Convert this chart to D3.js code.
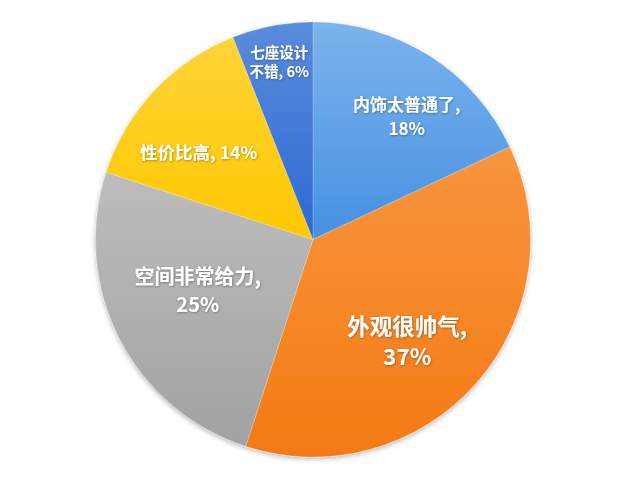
<!DOCTYPE html>
<html><head><meta charset="utf-8">
<script src="https://cdn.jsdelivr.net/npm/d3@7/dist/d3.min.js"></script>
<style>
html,body{margin:0;padding:0;background:#fff;}
svg{display:block;}
</style></head>
<body>
<svg id="chart" width="640" height="480"></svg>
<script>
const categories = ["内饰太普通了", "外观很帅气", "空间非常给力", "性价比高", "七座设计不错"];
const values = [18, 37, 25, 14, 6];
const labelLines = [["内饰太普通了,", "18%"], ["外观很帅气,", "37%"], ["空间非常给力,", "25%"], ["性价比高, 14%"], ["七座设计", "不错, 6%"]];

// styling (not data)
const gradTop = ["#7cb4ec", "#f8953e", "#bdbdbd", "#ffd438", "#5a8cdc"];
const gradBot = ["#4690e2", "#f47a14", "#a2a2a2", "#ffc800", "#2c69d4"];
const labelRadius = [0.71, 0.64, 0.58, 0.66, 0.83];
const labelAngleShift = [5, 6, 3, -6, 0];
const fontSizes = [17, 22.5, 20, 17.5, 14.5];
const lineGaps = [24.5, 30, 28.5, 0, 19.5];

const svg = d3.select("#chart");
const cx = 313, cy = 239.5, R = 217.5;
const defs = svg.append("defs");

const shadow = defs.append("filter").attr("id", "ds").attr("x", "-10%").attr("y", "-10%").attr("width", "120%").attr("height", "125%");
shadow.append("feDropShadow").attr("dx", 0).attr("dy", 2).attr("stdDeviation", 2.5).attr("flood-color", "#000").attr("flood-opacity", 0.28);

const tshadow = defs.append("filter").attr("id", "ts").attr("x", "-20%").attr("y", "-30%").attr("width", "140%").attr("height", "160%");
tshadow.append("feDropShadow").attr("dx", 0.6).attr("dy", 0.8).attr("stdDeviation", 0.8).attr("flood-color", "#000").attr("flood-opacity", 0.35);

categories.forEach((c, i) => {
  const g = defs.append("linearGradient").attr("id", "g" + i).attr("x1", 0).attr("y1", 0).attr("x2", 0).attr("y2", 1);
  g.append("stop").attr("offset", "0%").attr("stop-color", gradTop[i]);
  g.append("stop").attr("offset", "100%").attr("stop-color", gradBot[i]);
});

const pie = d3.pie().value(d => d).sort(null);
const arcs = pie(values);
const arc = d3.arc().innerRadius(0).outerRadius(R);

const g = svg.append("g").attr("transform", `translate(${cx},${cy})`);
g.append("g").attr("filter", "url(#ds)")
  .selectAll("path").data(arcs).join("path")
  .attr("d", arc)
  .attr("fill", (d, i) => `url(#g${i})`)
  .attr("stroke", "rgba(255,255,255,0.35)")
  .attr("stroke-width", 0.6);

const lg = g.append("g").attr("filter", "url(#ts)");
arcs.forEach((d, i) => {
  const mid = (d.startAngle + d.endAngle) / 2 + labelAngleShift[i] * Math.PI / 180;
  const r = R * labelRadius[i];
  const x = Math.sin(mid) * r, y = -Math.cos(mid) * r;
  const lines = labelLines[i];
  const n = lines.length;
  lines.forEach((ln, k) => {
    lg.append("text")
      .attr("x", x)
      .attr("y", y + (k - (n - 1) / 2) * lineGaps[i])
      .attr("dy", "0.36em")
      .attr("text-anchor", "middle")
      .attr("fill", "#fff")
      .attr("font-family", "'Noto Sans CJK SC', 'Noto Sans', sans-serif")
      .attr("font-weight", 700)
      .attr("font-size", fontSizes[i])
      .text(ln);
  });
});
</script>
</body></html>
